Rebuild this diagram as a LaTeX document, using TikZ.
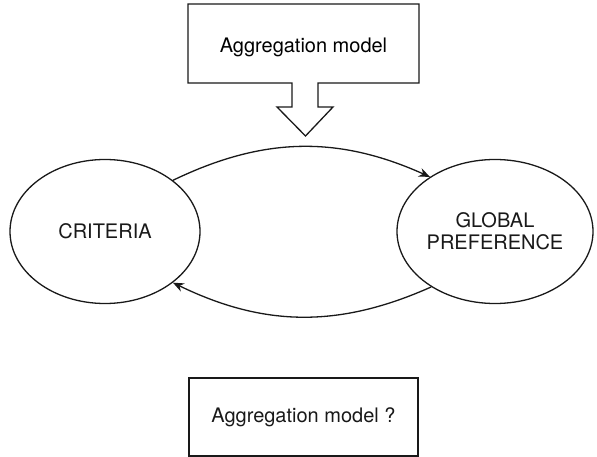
\documentclass[tikz,border=0pt]{standalone}
\usepackage{fontspec}
\setmainfont{TeX Gyre Heros}
\usetikzlibrary{shapes.geometric,arrows.meta}
\begin{document}
\begin{tikzpicture}[x=1pt,y=-1pt,
  every node/.style={font=\fontsize{20}{22}\selectfont},
  line/.style={line width=1.3pt,black!90},
  ell/.style={ellipse,draw,line width=1.3pt,black!90,inner sep=0pt,minimum height=144pt},
  boxnode/.style={draw,line width=1.3pt,black!90,minimum width=229pt,minimum height=78pt,inner sep=0pt},
  conn/.style={line width=1.3pt,black!90,-{Stealth[length=11pt,width=9pt]}}]
\useasboundingbox (0,0) rectangle (597,457);
% top box with hollow block arrow
\draw[line] (292,83) -- (188,83) -- (188,4) -- (419,4) -- (419,83) -- (318,83)
  -- (318,107) -- (333,107) -- (305.5,136) -- (277,107) -- (292,107) -- cycle;
\node (agg) at (303.5,47) {Aggregation model};
% ellipses
\node[ell,minimum width=190pt] (crit) at (105,231.5) {CRITERIA};
\node[ell,minimum width=196pt,align=center] (glob) at (495,231.5) {GLOBAL\\PREFERENCE};
% connectors
\draw[conn] (crit.37) to[bend left=25] (glob.140);
\draw[conn] (glob.221) to[bend left=25] (crit.-37);
% bottom box
\node[boxnode] (aggq) at (303.5,417) {Aggregation model ?};
\end{tikzpicture}
\end{document}
